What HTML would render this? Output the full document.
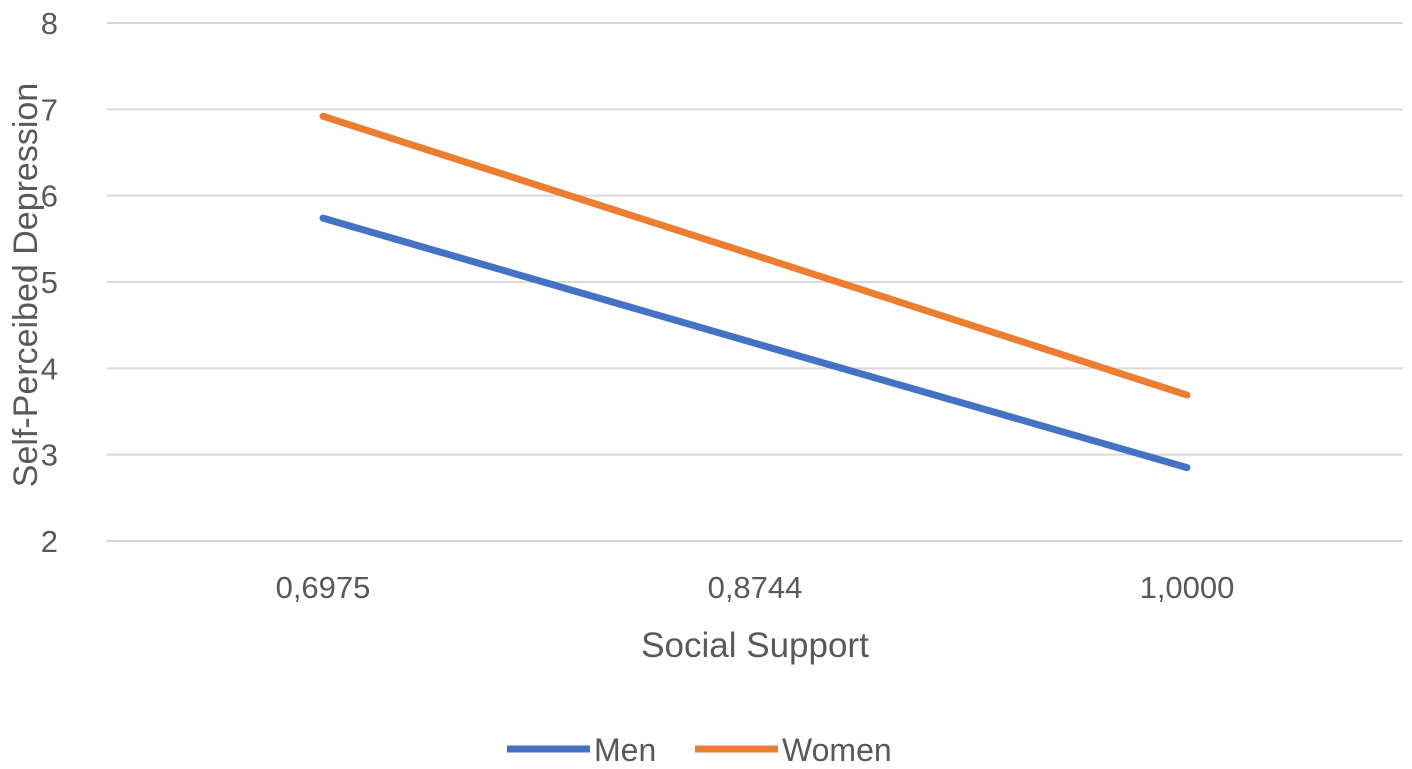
<!DOCTYPE html>
<html><head><meta charset="utf-8"><style>
body{margin:0;background:#fff;}
svg{display:block;font-family:"Liberation Sans",sans-serif;}
</style></head><body>
<svg width="1412" height="769">
<g id="grid"></g>
<g id="ylabels"></g>
<g id="xlabels"></g>
<g id="series"></g>
<text x="755" y="657" text-anchor="middle" font-size="35" fill="#595959">Social Support</text>
<text transform="translate(37,285) rotate(-90)" text-anchor="middle" font-size="34" fill="#595959">Self-Perceibed Depression</text>
<g>
<g><line x1="507" y1="749" x2="590" y2="749" stroke="#4472C4" stroke-width="7"/><text x="594" y="761" font-size="32" fill="#595959">Men</text></g>
<g><line x1="695" y1="749" x2="778" y2="749" stroke="#ED7D31" stroke-width="7"/><text x="782" y="761" font-size="32" fill="#595959">Women</text></g>
</g>
</svg>
<script>
const categories=["0,6975","0,8744","1,0000"];
const men=[5.74,4.29,2.85];
const women=[6.92,5.31,3.69];
const yTicks=[2,3,4,5,6,7,8];
const NS="http://www.w3.org/2000/svg";
const x0=107,x1=1403,yTop=23,yBot=541,yMin=2,yMax=8;
const xs=i=>x0+(x1-x0)/categories.length*(i+0.5);
const ys=v=>yBot-(v-yMin)/(yMax-yMin)*(yBot-yTop);
function mk(t,a,p){const e=document.createElementNS(NS,t);for(const k in a)e.setAttribute(k,a[k]);p.appendChild(e);return e;}
const g=document.getElementById('grid'),yl=document.getElementById('ylabels'),xl=document.getElementById('xlabels'),s=document.getElementById('series');
yTicks.forEach(v=>{
const l=mk('line',{x1:x0,x2:x1,y1:ys(v),y2:ys(v),stroke:'#d9d9d9','stroke-width':2},g);


const t=mk('text',{x:58,y:ys(v)+11,'text-anchor':'end','font-size':31,fill:'#595959'},yl);
t.textContent=v;


});
categories.forEach((c,i)=>{
const t=mk('text',{x:xs(i),y:598,'text-anchor':'middle','font-size':31,fill:'#595959'},xl);
t.textContent=c;


});
[[men,'#4472C4','men-line'],[women,'#ED7D31','women-line']].forEach(([d,c,n])=>{
const p=mk('polyline',{points:d.map((v,i)=>xs(i)+','+ys(v)).join(' '),fill:'none',stroke:c,'stroke-width':7,'stroke-linecap':'round','stroke-linejoin':'round'},s);


});
</script>
</body></html>
